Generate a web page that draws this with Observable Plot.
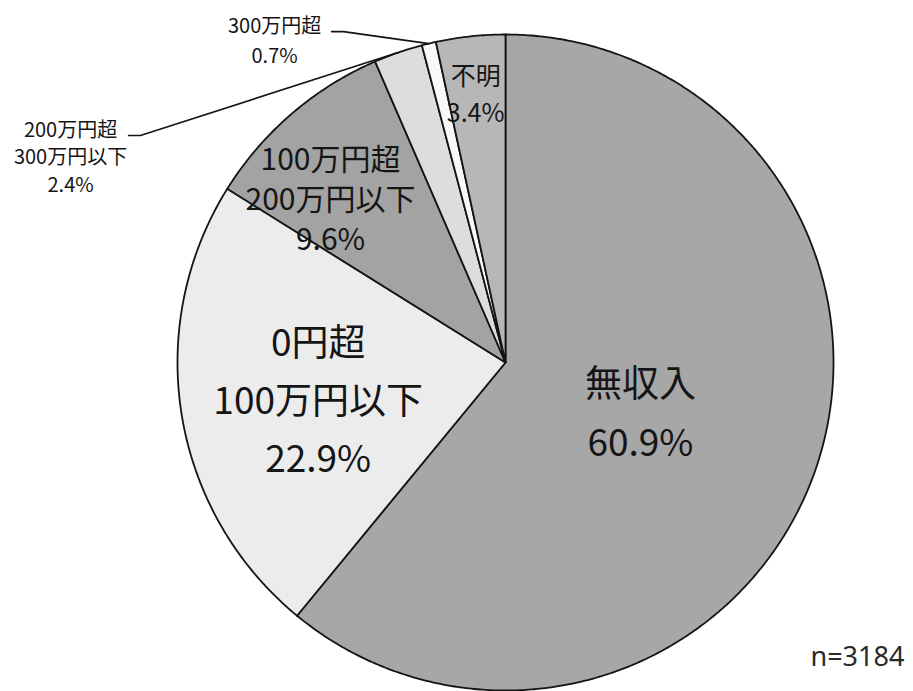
<!DOCTYPE html>
<html><head><meta charset="utf-8">
<script src="https://cdn.jsdelivr.net/npm/d3@7"></script>
<script src="https://cdn.jsdelivr.net/npm/@observablehq/plot@0.6"></script>
<style>
body{margin:0;background:#fff;}
#chart svg{display:block;}
g[aria-label="big-labels"] text{letter-spacing:3px;}
g[aria-label="mid-labels"] text{letter-spacing:1px;}
g[aria-label="small-labels"] text{letter-spacing:1px;}
</style>
</head><body><div id="chart"></div>
<script>
// ---- data ----
const categories = ["無収入", "0円超\n100万円以下", "100万円超\n200万円以下", "200万円超\n300万円以下", "300万円超", "不明"];
const shares = [60.9, 22.9, 9.6, 2.4, 0.7, 3.4];
const fills = ["#a7a7a7", "#ececec", "#a3a3a3", "#dddddd", "#f8f8f8", "#b7b7b7"];
const sampleSize = 3184;

// ---- layout (pie in unit coordinates: radius 1, centre 0,0) ----
const W = 913, H = 691, CX = 505, CY = 362, R = 328;
// inside labels: [index, angleDeg (clockwise from top), radius fraction, group, fontSize, lineHeight]
const insideLabels = [
  [0, 108.6, 0.434, "big-labels", 37, 1.6],
  [1, 260.0, 0.580, "big-labels", 37, 1.57],
  [2, 313.3, 0.733, "mid-labels", 30, 1.33],
  [5, 353.7, 0.830, "small-labels", 25, 1.48]
];
// outside labels: [index, textX, textY, leaderStartX, leaderBendX, leaderY, lineHeight]
const outsideLabels = [
  [3, -1.326, 0.631, -1.149, -1.113, 0.692, 1.375],
  [4, -0.704, 0.988, -0.530, -0.494, 1.009, 1.5]
];

const fmt = v => v.toFixed(1) + "%";
const arcs = d3.pie().sort(null).value(d => d)(shares);
const rad = deg => deg * Math.PI / 180;

// slice polygons
const slicePts = [];
arcs.forEach((a, i) => {
  const name = categories[i];
  slicePts.push({name, x: 0, y: 0});
  const n = Math.max(2, Math.ceil((a.endAngle - a.startAngle) / rad(0.5)));
  for (let k = 0; k <= n; ++k) {
    const t = a.startAngle + (a.endAngle - a.startAngle) * k / n;
    slicePts.push({name, x: Math.sin(t), y: Math.cos(t)});
  }
});

const inside = insideLabels.map(([i, ang, r, group, size, lh]) => ({
  text: categories[i] + "\n" + fmt(shares[i]),
  x: r * Math.sin(rad(ang)), y: r * Math.cos(rad(ang)), group, size, lh
}));

const outsideText = outsideLabels.map(([i, tx, ty, , , , lh]) => ({
  text: categories[i] + "\n" + fmt(shares[i]), x: tx, y: ty, lh
}));
const leaderPts = [];
outsideLabels.forEach(([i, , , sx, bx, ly]) => {
  const a = arcs[i], m = (a.startAngle + a.endAngle) / 2;
  leaderPts.push({id: i, x: sx, y: ly}, {id: i, x: bx, y: ly}, {id: i, x: Math.sin(m), y: Math.cos(m)});
});

const font = "'Noto Sans CJK JP', 'Noto Sans', sans-serif";
const textMarks = inside.map(d => Plot.text([d], {
  x: "x", y: "y", text: "text", fontSize: d.size, lineHeight: d.lh,
  fontFamily: font, fill: "#151515", textAnchor: "middle", lineAnchor: "middle", ariaLabel: d.group
}));
const outsideMarks = outsideText.map(d => Plot.text([d], {
  x: "x", y: "y", text: "text", fontSize: 20, lineHeight: d.lh,
  fontFamily: font, fill: "#151515", textAnchor: "middle", lineAnchor: "middle", ariaLabel: "small-labels"
}));

const chart = Plot.plot({
  width: W, height: H,
  margin: 0,
  x: {domain: [-CX / R, (W - CX) / R], range: [0, W], axis: null},
  y: {domain: [-(H - CY) / R, CY / R], range: [H, 0], axis: null},
  color: {domain: categories, range: fills},
  style: {background: "#fff", overflow: "visible"},
  marks: [
    Plot.line(slicePts, {x: "x", y: "y", z: "name", fill: "name", stroke: "#141414", strokeWidth: 1.8, curve: "linear-closed", strokeLinejoin: "round"}),
    Plot.line(leaderPts, {x: "x", y: "y", z: "id", stroke: "#141414", strokeWidth: 1.7}),
    ...textMarks,
    ...outsideMarks,
    Plot.text([{x: 1.073, y: -0.899, text: "n=" + sampleSize}], {x: "x", y: "y", text: "text", fontSize: 27, fontFamily: "'Noto Sans', sans-serif", fill: "#2a2a2a", textAnchor: "middle", lineAnchor: "middle"})
  ]
});
document.getElementById("chart").appendChild(chart);
</script>
</body></html>
